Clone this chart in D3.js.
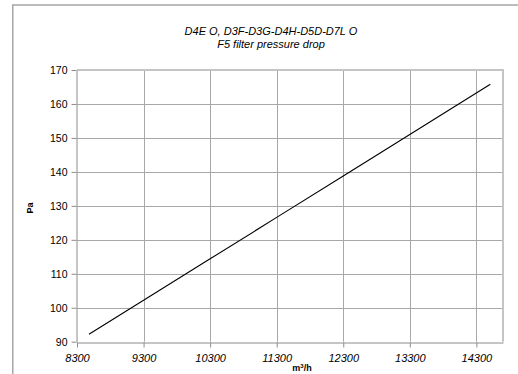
<!DOCTYPE html>
<html>
<head>
<meta charset="utf-8">
<script src="https://cdn.jsdelivr.net/npm/d3@7"></script>
<style>
  html, body { margin: 0; padding: 0; background: #fff; }
  svg { display: block; font-family: "Liberation Sans", Arial, sans-serif; }
</style>
</head>
<body>
<svg id="chart" width="518" height="374"></svg>
<script>
// Airflow (m³/h) and F5 filter pressure drop (Pa)
const airflow = [8480, 9300, 10300, 11300, 12300, 13300, 14510];
const pressure = [92.2, 102.2, 114.4, 126.6, 138.8, 151.0, 165.8];

const xTicks = [8300, 9300, 10300, 11300, 12300, 13300, 14300];
const yTicks = [90, 100, 110, 120, 130, 140, 150, 160, 170];

const titleLines = ["D4E O, D3F-D3G-D4H-D5D-D7L O", "F5 filter pressure drop"];

const svg = d3.select("#chart");

const plot = { left: 77, right: 503, top: 70, bottom: 341.7 };

const x = d3.scaleLinear().domain([8300, 14700]).range([plot.left, plot.right]);
const y = d3.scaleLinear().domain([90, 170]).range([plot.bottom, plot.top]);

// Outer chart frame (left and top edges visible)
svg.append("path")
  .attr("d", "M12.75,380 L12.75,5 L530,5")
  .attr("fill", "none")
  .attr("stroke", "#a6a6a6")
  .attr("stroke-width", 1.5);

// Gridlines
svg.append("g")
  .selectAll("line.h")
  .data(yTicks.slice(1, -1))
  .join("line")
  .attr("x1", plot.left).attr("x2", plot.right)
  .attr("y1", d => Math.round(y(d)) + 0.5).attr("y2", d => Math.round(y(d)) + 0.5)
  .attr("stroke", "#a8a8a8").attr("stroke-width", 1);

svg.append("g")
  .selectAll("line.v")
  .data(xTicks.slice(1))
  .join("line")
  .attr("x1", d => Math.round(x(d)) + 0.5).attr("x2", d => Math.round(x(d)) + 0.5)
  .attr("y1", plot.top).attr("y2", plot.bottom)
  .attr("stroke", "#a8a8a8").attr("stroke-width", 1);

// Plot area top and right border
svg.append("path")
  .attr("d", `M${plot.left},${plot.top} L${plot.right},${plot.top} L${plot.right},${plot.bottom}`)
  .attr("fill", "none")
  .attr("stroke", "#c4c4c4")
  .attr("stroke-width", 2);

// Axes
const xAxis = d3.axisBottom(x).tickValues(xTicks).tickSize(5).tickSizeOuter(0).tickFormat(d3.format("d"));
const yAxis = d3.axisLeft(y).tickValues(yTicks).tickSize(5).tickSizeOuter(0).tickFormat(d3.format("d"));

const gx = svg.append("g")
  .attr("transform", `translate(0,${Math.round(plot.bottom) + 0.5})`)
  .call(xAxis);
const gy = svg.append("g")
  .attr("transform", `translate(${Math.round(plot.left) - 0.5},0)`)
  .call(yAxis);

[gx, gy].forEach(g => {
  g.select(".domain").attr("stroke", "#8c8c8c");
  g.selectAll(".tick line").attr("stroke", "#8c8c8c");
  g.selectAll("text")
    .attr("fill", "#000")
    .style("font-family", "'Liberation Sans', Arial, sans-serif")
    .style("font-size", "11px");
});
gx.selectAll("text").style("font-style", "italic").attr("dy", "1.05em");
gy.selectAll("text").attr("x", -9).attr("dy", "0.35em").style("font-size", "10.5px");

// Data line
const line = d3.line().x((d, i) => x(airflow[i])).y(d => y(d));
svg.append("path")
  .datum(pressure)
  .attr("d", line)
  .attr("fill", "none")
  .attr("stroke", "#000")
  .attr("stroke-width", 1.1);

// Title
svg.append("text")
  .attr("x", 271).attr("y", 35)
  .attr("text-anchor", "middle")
  .style("font-size", "11px").style("font-style", "italic")
  .text(titleLines[0]);
svg.append("text")
  .attr("x", 271).attr("y", 47.5)
  .attr("text-anchor", "middle")
  .style("font-size", "11px").style("font-style", "italic")
  .text(titleLines[1]);

// Axis titles
const xt = svg.append("text")
  .attr("x", 302).attr("y", 370.5)
  .attr("text-anchor", "middle")
  .style("font-size", "9px").style("font-weight", "bold");
xt.append("tspan").text("m");
xt.append("tspan").attr("dy", -3).style("font-size", "6px").text("3");
xt.append("tspan").attr("dy", 3).text("/h");

svg.append("text")
  .attr("transform", "translate(33,208) rotate(-90)")
  .attr("text-anchor", "middle")
  .style("font-size", "9px").style("font-weight", "bold")
  .text("Pa");
</script>
</body>
</html>
